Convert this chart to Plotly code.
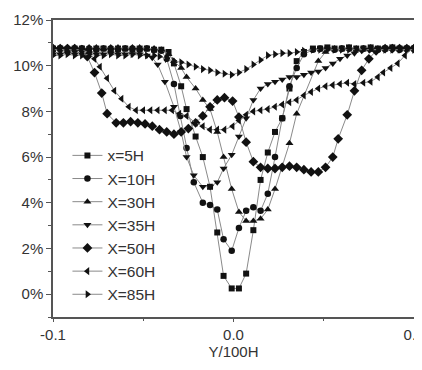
import plotly.graph_objects as go

# ---------------- data (Y/100H, percent) ----------------
LF16 = [-0.1, -0.096, -0.092, -0.088, -0.084, -0.08, -0.076, -0.072,
        -0.068, -0.064, -0.06, -0.056, -0.052, -0.048, -0.044, -0.04]
RF15 = [0.044, 0.048, 0.052, 0.056, 0.06, 0.064, 0.068, 0.072, 0.076,
        0.08, 0.084, 0.088, 0.092, 0.096, 0.1]

x5 = LF16 + [-0.036, -0.033, -0.029, -0.026, -0.021, -0.017, -0.013, -0.009,
             -0.0055, -0.001, 0.003, 0.007, 0.011, 0.015, 0.019, 0.023, 0.027,
             0.031, 0.035, 0.039] + RF15
y5 = [10.75, 10.75, 10.7, 10.75, 10.75, 10.7, 10.75, 10.75, 10.7, 10.75, 10.75,
      10.7, 10.75, 10.75, 10.7, 10.7] + \
     [10.6, 10.1, 9.1, 8.1, 6.9, 6.0, 4.7, 2.7, 0.8, 0.25, 0.25, 0.9, 2.8, 5.0,
      6.2, 7.1, 7.7, 9.0, 10.2, 10.6] + \
     [10.75, 10.75, 10.8, 10.75, 10.75, 10.8, 10.75, 10.75, 10.8, 10.75, 10.75,
      10.8, 10.75, 10.75, 10.75]

x10 = LF16 + [-0.037, -0.033, -0.0295, -0.026, -0.022, -0.017, -0.013, -0.009,
              -0.0055, -0.001, 0.003, 0.007, 0.011, 0.015, 0.019, 0.023, 0.027,
              0.031, 0.035, 0.039] + RF15
y10 = [10.7, 10.75, 10.75, 10.7, 10.75, 10.75, 10.7, 10.75, 10.75, 10.7, 10.75,
       10.75, 10.7, 10.75, 10.7, 10.65] + \
      [10.3, 9.2, 7.8, 6.4, 4.9, 4.0, 3.9, 3.7, 2.4, 1.9, 2.9, 3.65, 3.8, 3.65,
       4.4, 6.0, 7.7, 9.1, 9.9, 10.5] + \
      [10.7, 10.75, 10.75, 10.7, 10.75, 10.75, 10.7, 10.75, 10.75, 10.7, 10.75,
       10.75, 10.7, 10.75, 10.75]

x30 = LF16 + [-0.036, -0.033, -0.029, -0.026, -0.021, -0.017, -0.013, -0.009,
              -0.0055, -0.001, 0.003, 0.007, 0.011, 0.015, 0.019, 0.023, 0.027,
              0.031, 0.035, 0.047, 0.051] + \
      [0.056, 0.06, 0.064, 0.068, 0.072, 0.076, 0.08, 0.084, 0.088, 0.092, 0.096, 0.1]
y30 = [10.8, 10.75, 10.8, 10.8, 10.75, 10.8, 10.8, 10.75, 10.8, 10.8, 10.75,
       10.8, 10.8, 10.75, 10.75, 10.7] + \
      [10.5, 10.2, 9.9, 9.5, 9.0, 8.5, 8.1, 7.1, 6.0, 4.6, 3.6, 3.2, 3.2, 3.3,
       3.7, 4.6, 5.6, 6.6, 7.9, 10.2, 10.6] + \
      [10.75, 10.75, 10.8, 10.75, 10.75, 10.8, 10.75, 10.75, 10.8, 10.75, 10.75, 10.8]

x35 = [-0.1, -0.096, -0.092, -0.088, -0.084, -0.08, -0.076, -0.072, -0.068,
       -0.064, -0.06, -0.056, -0.052, -0.048] + \
      [-0.045, -0.042, -0.038, -0.033, -0.029, -0.026, -0.022, -0.017, -0.013,
       -0.009, -0.0055, -0.001, 0.003, 0.007, 0.011, 0.015, 0.019, 0.023, 0.027,
       0.031, 0.035, 0.039, 0.043, 0.047, 0.051, 0.055, 0.059, 0.063, 0.067,
       0.071, 0.075] + [0.08, 0.084, 0.088, 0.092, 0.096, 0.1]
y35 = [10.5, 10.5, 10.55, 10.5, 10.5, 10.55, 10.5, 10.5, 10.55, 10.5, 10.5,
       10.5, 10.5, 10.45] + \
      [10.35, 10.05, 9.3, 8.2, 7.1, 6.0, 5.2, 4.7, 4.7, 4.9, 5.5, 6.1, 6.9, 7.7,
       8.5, 9.0, 9.2, 9.3, 9.4, 9.5, 9.5, 9.6, 9.7, 9.75, 9.9, 10.1, 10.3, 10.45,
       10.55, 10.65, 10.7] + [10.75, 10.75, 10.75, 10.75, 10.75, 10.75]

x50 = [-0.1, -0.096, -0.092, -0.088, -0.084] + \
      [-0.081, -0.077, -0.073, -0.07, -0.065, -0.061, -0.057, -0.053, -0.049,
       -0.045, -0.041, -0.037, -0.033, -0.029, -0.025, -0.021, -0.017, -0.013,
       -0.009, -0.005, -0.0005, 0.003, 0.007, 0.011, 0.015, 0.019, 0.023, 0.027,
       0.031, 0.035, 0.039, 0.043, 0.047, 0.051, 0.055, 0.058, 0.063, 0.067,
       0.071, 0.075, 0.079] + [0.084, 0.088, 0.092, 0.096, 0.1]
y50 = [10.75, 10.75, 10.75, 10.75, 10.7] + \
      [10.4, 9.7, 8.8, 7.9, 7.5, 7.5, 7.55, 7.5, 7.45, 7.35, 7.2, 7.1, 7.0, 7.1,
       7.25, 7.5, 7.8, 8.2, 8.5, 8.6, 8.45, 7.75, 6.65, 5.8, 5.55, 5.5, 5.5, 5.55,
       5.6, 5.55, 5.45, 5.35, 5.35, 5.55, 6.0, 6.8, 7.85, 8.9, 9.8, 10.3, 10.65] + \
      [10.75, 10.75, 10.75, 10.75, 10.75]

x60 = [-0.1, -0.096, -0.092, -0.088, -0.084] + \
      [-0.08, -0.077, -0.074, -0.07, -0.066, -0.062, -0.058, -0.054, -0.05,
       -0.046, -0.042, -0.038, -0.034, -0.03, -0.026, -0.021, -0.017, -0.013,
       -0.009, -0.005, -0.0005, 0.003, 0.007, 0.011, 0.015, 0.019, 0.023, 0.027,
       0.031, 0.035, 0.039, 0.043, 0.047, 0.051, 0.055, 0.059, 0.063, 0.067,
       0.072, 0.076, 0.08, 0.083, 0.087, 0.091, 0.095, 0.099]
y60 = [10.7, 10.7, 10.7, 10.7, 10.7] + \
      [10.55, 10.3, 9.95, 9.45, 8.9, 8.55, 8.2, 8.05, 8.05, 8.05, 8.05, 8.05,
       8.05, 7.9, 7.8, 7.5, 7.35, 7.2, 7.2, 7.2, 7.35, 7.6, 7.85, 8.0, 8.05, 8.1,
       8.2, 8.3, 8.4, 8.5, 8.7, 8.85, 9.0, 9.1, 9.15, 9.2, 9.25, 9.2, 9.25, 9.3,
       9.5, 9.7, 9.9, 10.1, 10.45, 10.75]

x85 = [-0.1, -0.096, -0.092, -0.088, -0.084, -0.08, -0.076, -0.072, -0.068,
       -0.064, -0.06, -0.056, -0.052, -0.048, -0.044] + \
      [-0.041, -0.037, -0.033, -0.029, -0.025, -0.021, -0.017, -0.013, -0.009,
       -0.005, -0.001, 0.003, 0.007, 0.011, 0.015, 0.019, 0.023, 0.027, 0.031,
       0.035, 0.039] + RF15
y85 = [10.45, 10.45, 10.5, 10.45, 10.45, 10.5, 10.45, 10.45, 10.5, 10.45,
       10.45, 10.5, 10.45, 10.45, 10.45] + \
      [10.4, 10.3, 10.2, 10.15, 10.05, 9.95, 9.85, 9.8, 9.7, 9.65, 9.6, 9.7,
       9.85, 10.05, 10.25, 10.45, 10.5, 10.55, 10.55, 10.6, 10.65] + \
      [10.7, 10.7, 10.7, 10.7, 10.7, 10.7, 10.7, 10.7, 10.7, 10.7, 10.7, 10.7,
       10.7, 10.7, 10.7]

names = ["x=5H", "X=10H", "X=30H", "X=35H", "X=50H", "X=60H", "X=85H"]
xs = [x5, x10, x30, x35, x50, x60, x85]
ys = [y5, y10, y30, y35, y50, y60, y85]
symbols = ["square", "circle", "triangle-up", "triangle-down", "diamond",
           "triangle-left", "triangle-right"]
sizes = [6, 6.5, 7, 7, 7.5, 7, 7]

y_ticks = [0, 2, 4, 6, 8, 10, 12]
y_tick_labels = ["0%", "2%", "4%", "6%", "8%", "10%", "12%"]
x_ticks = [-0.1, 0.0, 0.1]
x_tick_labels = ["-0.1", "0.0", "0.1"]

FONT = "Liberation Sans, Arial, sans-serif"

fig = go.Figure()
for n, xv, yv, s, sz in zip(names, xs, ys, symbols, sizes):
    fig.add_trace(go.Scatter(
        x=xv, y=yv, name=n, mode="lines+markers",
        line=dict(color="#8a8a8a", width=1),
        marker=dict(symbol=s, size=sz, color="#111111", line=dict(width=0)),
    ))

axis_common = dict(
    showline=True, linecolor="#555555", linewidth=1.5, mirror=True,
    showgrid=False, zeroline=False, ticks="outside", tickwidth=1.2,
    tickcolor="#555555", tickfont=dict(family=FONT, size=15, color="#333333"),
    automargin=False, ticklabeloverflow="allow",
)

# page body has an 8px default margin, so the figure is sized to the remaining space
fig.update_layout(
    width=414, height=362,
    margin=dict(l=45, r=8, t=12, b=53),
    paper_bgcolor="white", plot_bgcolor="white",
    font=dict(family=FONT, color="#333333"),
    showlegend=True,
    legend=dict(
        x=0.04, y=0.6, xanchor="left", yanchor="top",
        bgcolor="rgba(0,0,0,0)", borderwidth=0,
        font=dict(family=FONT, size=15.5, color="#333333"),
    ),
    xaxis=dict(
        range=[-0.1, 0.1], tickvals=x_ticks, ticktext=x_tick_labels, ticklen=3,
        minor=dict(tickvals=[-0.05, 0.05], ticks="outside", ticklen=2,
                   tickcolor="#555555"),
        title=dict(text="Y/100H", font=dict(family=FONT, size=15, color="#333333"),
                   standoff=5),
        **axis_common,
    ),
    yaxis=dict(
        range=[-1, 12], tickvals=y_ticks, ticktext=y_tick_labels, ticklen=5,
        minor=dict(tickvals=[-1, 1, 3, 5, 7, 9, 11], ticks="outside", ticklen=3,
                   tickcolor="#555555"),
        **axis_common,
    ),
)

fig.write_html("out.html")
